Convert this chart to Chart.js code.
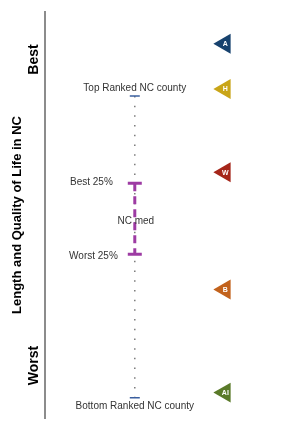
<!DOCTYPE html>
<html>
<head>
<meta charset="utf-8">
<script src="https://cdn.jsdelivr.net/npm/chart.js@4/dist/chart.umd.min.js"></script>
<style>
  html, body { margin: 0; padding: 0; background: #ffffff; }
  #wrap { width: 292px; height: 430px; position: relative; }
</style>
</head>
<body>
<div id="wrap"><canvas id="c"></canvas></div>
<script>
// ---- data (ranks among NC counties; 1 = best, 100 = worst) ----
const countyLabels = ['Top Ranked NC county', 'Bottom Ranked NC county'];
const countyRange = [1, 100];
const quartileLabels = ['Best 25%', 'Worst 25%'];
const quartiles = [29.6, 52.9];
const medianLabel = 'NC med';
const median = 42.2;
const markerLabels = ['A', 'H', 'W', 'B', 'AI'];
const markerRanks = [-16.1, -1.3, 26.05, 64.5, 98.3];
const markerColors = ['#17426e', '#c9a518', '#a5261a', '#c2621c', '#5a7a29'];
const axisTitle = 'Length and Quality of Life in NC';
const axisEnds = ['Best', 'Worst'];

const NC_X = 1, MARK_X = 2;
const FONT = "'Liberation Sans', Arial, sans-serif";

const textPlugin = {
  id: 'texts',
  afterDatasetsDraw(chart) {
    const {ctx, chartArea, scales: {x, y}} = chart;
    ctx.save();
    ctx.fillStyle = '#333333';
    ctx.font = '10px ' + FONT;
    ctx.textBaseline = 'middle';
    const cx = x.getPixelForValue(NC_X);
    ctx.textAlign = 'center';
    ctx.fillText(countyLabels[0], cx, y.getPixelForValue(countyRange[0]) - 8);
    ctx.fillText(countyLabels[1], cx, y.getPixelForValue(countyRange[1]) + 8.5);
    ctx.fillText(medianLabel, cx + 1, y.getPixelForValue(median));
    ctx.textAlign = 'right';
    ctx.fillText(quartileLabels[0], cx - 22, y.getPixelForValue(quartiles[0]) - 1);
    ctx.fillText(quartileLabels[1], cx - 17, y.getPixelForValue(quartiles[1]) + 2);

    // Best / Worst
    ctx.fillStyle = '#000000';
    ctx.font = 'bold 14px ' + FONT;
    ctx.textAlign = 'center';
    const ex = chartArea.left - 11;
    const ys = [chartArea.top + 48, chartArea.bottom - 53];
    axisEnds.forEach((t, i) => {
      ctx.save();
      ctx.translate(ex, ys[i]);
      ctx.rotate(-Math.PI / 2);
      ctx.fillText(t, 0, 0);
      ctx.restore();
    });

    // marker letters
    const meta = chart.getDatasetMeta(3);
    ctx.fillStyle = '#ffffff';
    ctx.font = 'bold 7px ' + FONT;
    ctx.textAlign = 'center';
    meta.data.forEach((pt, i) => {
      ctx.fillText(markerLabels[i], pt.x + 0.5, pt.y + 0.5);
    });
    ctx.restore();
  }
};

new Chart(document.getElementById('c'), {
  type: 'scatter',
  data: {
    datasets: [
      {
        type: 'line',
        data: quartiles.map(v => ({x: NC_X, y: v})),
        borderColor: '#9d3ba3',
        borderWidth: 3,
        borderDash: [8, 5],
        pointStyle: 'line',
        pointRadius: 7,
        pointBorderWidth: 3,
        pointBorderColor: '#9d3ba3',
        pointBackgroundColor: '#9d3ba3'
      },
      {
        data: countyRange.map(v => ({x: NC_X, y: v})),
        pointStyle: 'line',
        pointRadius: 5,
        pointBorderWidth: 1.5,
        pointBorderColor: '#3a5f9f',
        borderColor: '#3a5f9f'
      },
      {
        type: 'line',
        data: countyRange.map(v => ({x: NC_X, y: v})),
        borderColor: '#7a7a7a',
        borderWidth: 1.5,
        borderDash: [1.5, 8.2],
        pointRadius: 0
      },
      {
        data: markerRanks.map(v => ({x: MARK_X, y: v})),
        pointStyle: 'triangle',
        rotation: 270,
        pointRadius: 11.5,
        pointBorderWidth: 0,
        backgroundColor: markerColors,
        borderColor: markerColors
      }
    ]
  },
  options: {
    responsive: true,
    maintainAspectRatio: false,
    animation: false,
    events: [],
    layout: { padding: { left: 0, right: 0, top: 10, bottom: 10 } },
    plugins: { legend: { display: false }, tooltip: { enabled: false } },
    scales: {
      x: { type: 'linear', display: false, min: 0.003, max: 2.618 },
      y: {
        type: 'linear',
        reverse: true,
        min: -26.7,
        max: 106.8,
        grid: { display: false, drawTicks: false },
        ticks: { display: false },
        border: { display: true, color: '#8c8c8c', width: 2 },
        title: {
          display: true,
          text: axisTitle,
          color: '#000000',
          font: { family: FONT, size: 13, weight: 'bold' },
          padding: { top: 9.7, bottom: 19.7 }
        }
      }
    }
  },
  plugins: [textPlugin]
});
</script>
</body>
</html>
